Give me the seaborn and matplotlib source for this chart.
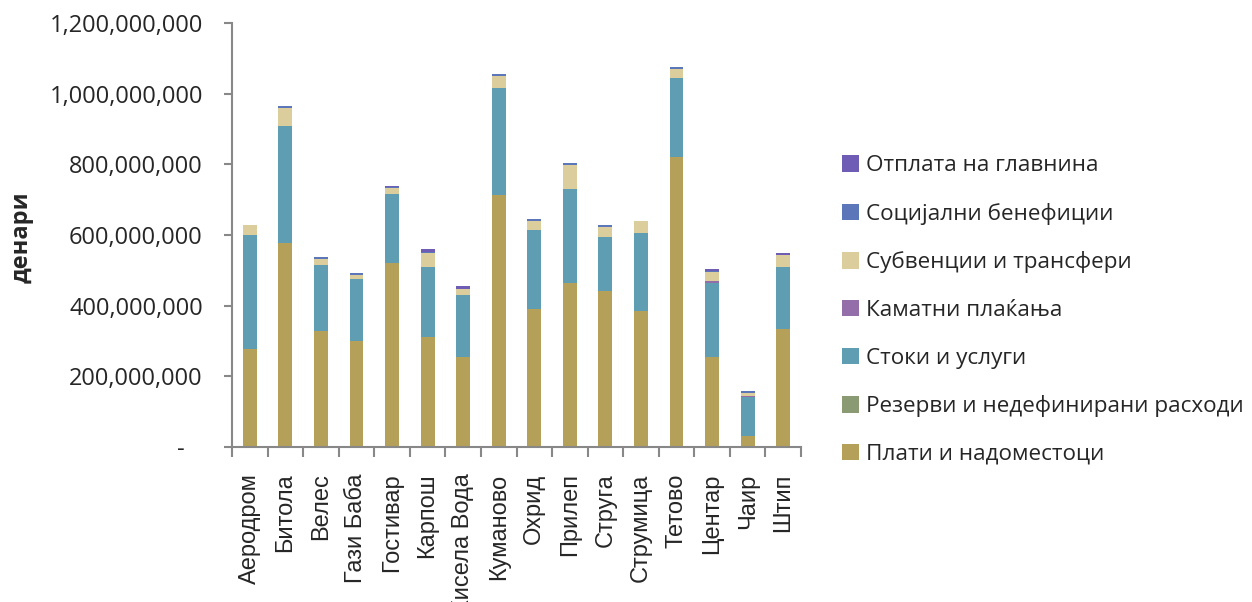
import matplotlib
matplotlib.use("Agg")
import numpy as np
import pandas as pd
import seaborn as sns
import matplotlib.pyplot as plt
from matplotlib.ticker import FuncFormatter, FixedLocator
from matplotlib.patches import Patch

# Municipalities
categories = ["Аеродром", "Битола", "Велес", "Гази Баба", "Гостивар", "Карпош",
              "Кисела Вода", "Куманово", "Охрид", "Прилеп", "Струга", "Струмица",
              "Тетово", "Центар", "Чаир", "Штип"]

# Expenditure by category, millions of denars (stacking order bottom -> top)
plati = [277, 576, 327, 300, 520, 311, 255, 712, 390, 464, 441, 385, 820, 255, 30, 335]
rezervi = [0, 0, 0, 0, 0, 0, 0, 0, 0, 0, 0, 0, 0, 0, 0, 0]
stoki = [323, 332, 189, 175, 197, 198, 175, 304, 225, 265, 152, 220, 224, 209, 111, 174]
kamatni = [0, 0, 0, 0, 0, 0, 0, 0, 0, 0, 0, 0, 0, 5, 2, 0]
subvencii = [28, 51, 15, 11, 16, 41, 17, 34, 25, 69, 29, 34, 25, 25, 10, 34]
socijalni = [0, 6, 6, 6, 3, 3, 0, 7, 4, 5, 5, 0, 6, 4, 5, 0]
otplata = [0, 0, 0, 0, 4, 6, 10, 0, 0, 0, 0, 0, 0, 6, 0, 5]

series_names = ["Плати и надоместоци", "Резерви и недефинирани расходи", "Стоки и услуги",
                "Каматни плаќања", "Субвенции и трансфери", "Социјални бенефиции",
                "Отплата на главнина"]
series_values = [plati, rezervi, stoki, kamatni, subvencii, socijalni, otplata]
series_colors = ["#B5A05A", "#8A9B73", "#5F9DB3", "#946EA8", "#DCCD9C", "#5B76B9", "#6F5DB5"]

df = pd.DataFrame({"municipality": categories})
for name, vals in zip(series_names, series_values):
    df[name] = np.array(vals, dtype=float) * 1e6
cum = df[series_names].cumsum(axis=1)
cum.insert(0, "municipality", categories)

sns.set_theme(style="white")
plt.rcParams["font.family"] = ["Open Sans", "DejaVu Sans"]

fig = plt.figure(figsize=(12.52, 6.02), dpi=100)
ax = fig.add_axes([232 / 1252, 155 / 602, 569 / 1252, 424 / 602])

# Stacked bars: draw cumulative totals from the top layer down
for name, color in reversed(list(zip(series_names, series_colors))):
    sns.barplot(data=cum, x="municipality", y=name, order=categories, color=color,
                saturation=1, width=0.39, linewidth=0, errorbar=None, ax=ax)

ax.set_xlim(-0.5, len(categories) - 0.5)
ax.set_ylim(0, 1.2e9)
ax.set_yticks(np.arange(0, 1.2e9 + 1, 2e8))
ax.yaxis.set_major_formatter(FuncFormatter(lambda v, p: "-   " if v == 0 else f"{v:,.0f}"))
ax.set_xlabel("")
ax.set_ylabel("")

ax.set_xticks(range(len(categories)))
ax.set_xticklabels(categories, rotation=90, fontsize=17, family=["Liberation Sans", "DejaVu Sans"])
ax.xaxis.set_minor_locator(FixedLocator(np.arange(-0.5, len(categories), 1.0)))
ax.tick_params(axis="x", which="major", length=0, pad=19)
ax.tick_params(axis="x", which="minor", length=7, width=1.5, color="#888888", bottom=True)
ax.tick_params(axis="y", which="major", length=6, width=1.5, color="#888888", pad=15,
               labelsize=17, left=True)

for side in ["top", "right"]:
    ax.spines[side].set_visible(False)
for side in ["left", "bottom"]:
    ax.spines[side].set_color("#888888")
    ax.spines[side].set_linewidth(1.5)

fig.text(22 / 1252, 1 - 237 / 602, "денари", rotation=90, ha="center", va="center",
         fontsize=17, fontweight="bold")

handles = [Patch(facecolor=c, edgecolor="none", label=n)
           for n, c in zip(series_names, series_colors)][::-1]
fig.legend(handles=handles, loc="center left", bbox_to_anchor=(842 / 1252, 1 - 310 / 602),
           frameon=False, fontsize=16.2, handlelength=0.75, handleheight=0.75,
           handletextpad=0.3, labelspacing=1.18, borderpad=0, borderaxespad=0)

fig.savefig("out.png", dpi=100, facecolor="white")
